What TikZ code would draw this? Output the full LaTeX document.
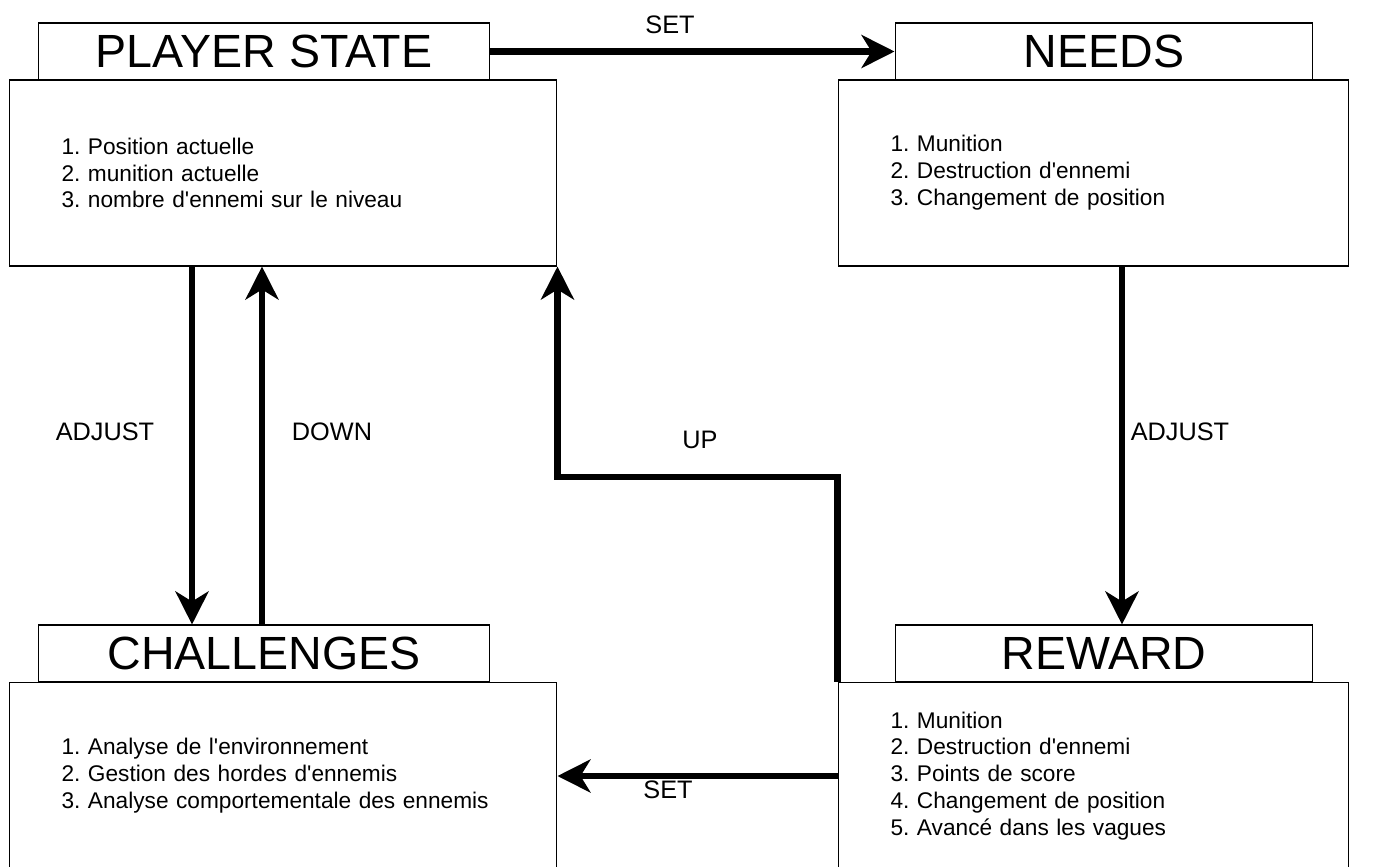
\documentclass[tikz,border=0pt]{standalone}
\usepackage{fontspec}
\setmainfont{Liberation Sans}[Ligatures=TeXOff]
\usetikzlibrary{arrows.meta,positioning}
\frenchspacing

\begin{document}
\begin{tikzpicture}[x=0.02cm,y=-0.02cm,
  title/.style={draw,line width=.6pt,fill=white,minimum height=1.14cm,inner sep=0pt,
    font=\fontsize{26.5}{31}\selectfont},
  panel/.style={draw,line width=.6pt,fill=white,minimum width=10.96cm,text width=8.86cm,
    align=left,inner xsep=1.05cm,inner ysep=0pt,font=\fontsize{12.9}{15.3}\selectfont},
  arrow/.style={-{Stealth[length=6.6mm,width=6.6mm,inset=2mm]},line width=3.6pt},
  lbl/.style={font=\fontsize{14.4}{17}\selectfont}]
\useasboundingbox (0,0) rectangle (1390,866);
\node[title,minimum width=9.04cm](pstitle) at (264,51.5){PLAYER STATE};
\node[panel,minimum height=3.72cm](psbody) at (283,173){1. Position actuelle\\2. munition actuelle\\3. nombre d'ennemi sur le niveau};
\node[title,minimum width=8.36cm](ndtitle) at (1104,51.5){NEEDS};
\node[panel,minimum width=10.22cm,text width=8.12cm,minimum height=3.72cm](ndbody) at (1093.5,173){1. Munition\\2. Destruction d'ennemi\\3. Changement de position};
\node[title,minimum width=9.04cm](chtitle) at (264,653.5){CHALLENGES};
\node[panel,minimum height=3.76cm](chbody) at (283,776){1. Analyse de l'environnement\\2. Gestion des hordes d'ennemis\\3. Analyse comportementale des ennemis};
\node[title,minimum width=8.36cm](rwtitle) at (1104,653.5){REWARD};
\node[panel,minimum width=10.22cm,text width=8.12cm,minimum height=3.76cm](rwbody) at (1093.5,776){1. Munition\\2. Destruction d'ennemi\\3. Points de score\\4. Changement de position\\5. Avancé dans les vagues};
\coordinate (upturn) at (700,477);
\draw[arrow](pstitle.east)--(ndtitle.west);
\draw[arrow]([xshift=-1.82cm]psbody.south)--([xshift=-1.82cm]psbody.south |- chtitle.north);
\draw[arrow]([xshift=-.42cm]psbody.south |- chtitle.north)--([xshift=-.42cm]psbody.south);
\draw[arrow]([xshift=.57cm]ndbody.south)--([xshift=.57cm]ndbody.south |- rwtitle.north);
\draw[arrow](rwbody.north west) |- (upturn) -| (psbody.south east);
\draw[arrow](rwbody.west)--(chbody.east);
\node[lbl](setnd) at (670,25){SET};
\node[lbl](adjch) at (105,432){ADJUST};
\node[lbl](downps) at (332,432){DOWN};
\node[lbl](upps) at (700,440){UP};
\node[lbl](adjrw) at (1180,432){ADJUST};
\node[lbl](setch) at (668,790){SET};
\end{tikzpicture}
\end{document}
